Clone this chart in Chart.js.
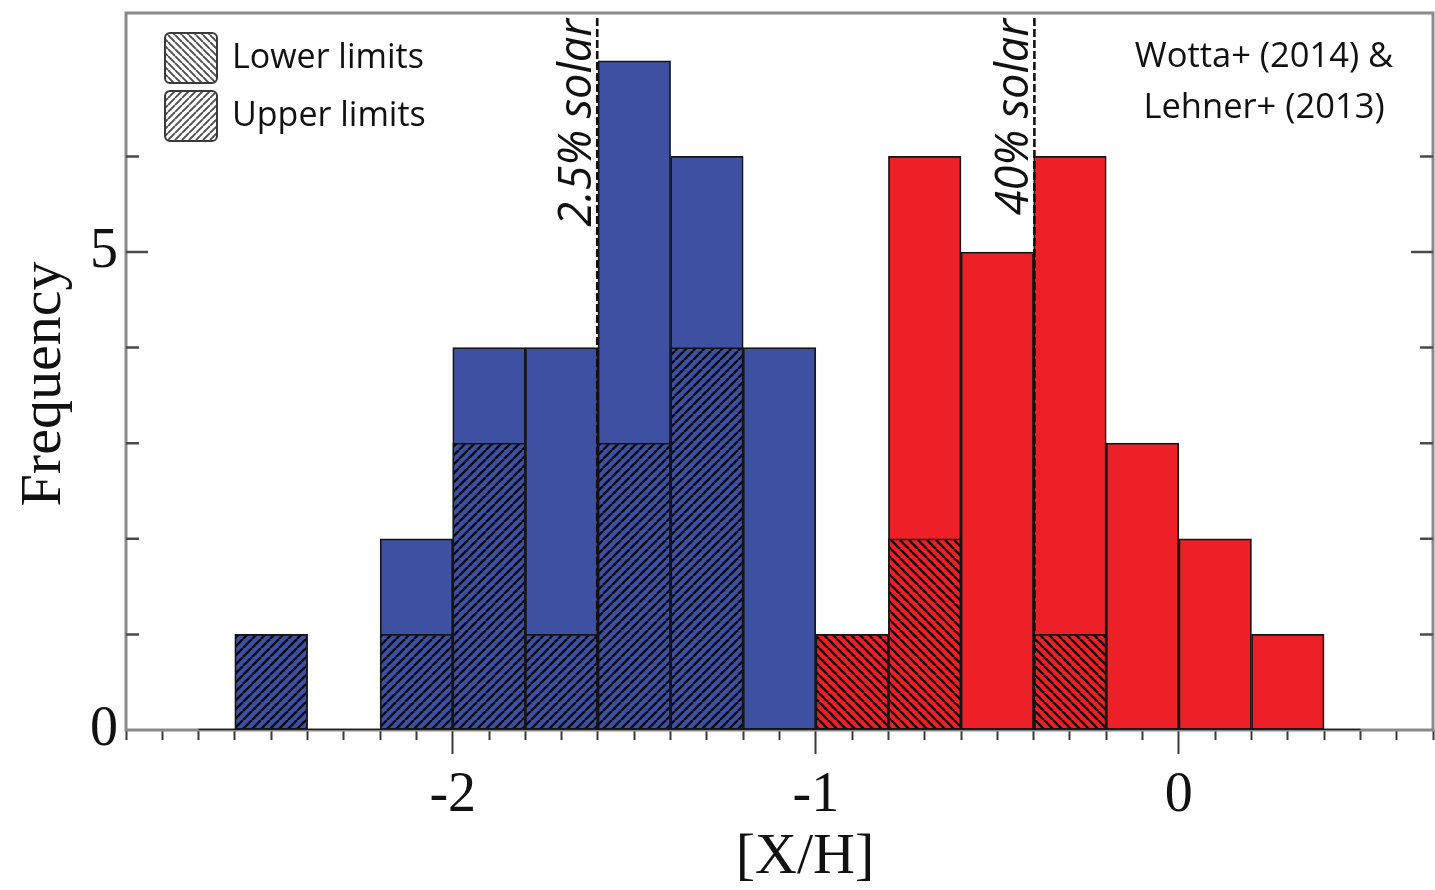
<!DOCTYPE html>
<html>
<head>
<meta charset="utf-8">
<script src="https://cdn.jsdelivr.net/npm/chart.js@4/dist/chart.umd.min.js"></script>
<style>
  html, body { margin: 0; padding: 0; background: #fff; }
  #wrap { width: 1435px; height: 890px; position: relative; }
</style>
</head>
<body>
<div id="wrap"><canvas id="c"></canvas></div>
<script>
// Metallicity distribution: metal-poor (blue) and metal-rich (red) branches, 0.2 dex bins
const blueCenters = [-2.5, -2.3, -2.1, -1.9, -1.7, -1.5, -1.3, -1.1];
const blueCounts = [1, 0, 2, 4, 4, 7, 6, 4];
const blueUpperLimits = [1, 0, 1, 3, 1, 3, 4, 0];
const redCenters = [-0.9, -0.7, -0.5, -0.3, -0.1, 0.1, 0.3];
const redCounts = [1, 6, 5, 6, 3, 2, 1];
const redLowerLimits = [1, 2, 0, 1, 0, 0, 0];
const histRange = [-2.7, 0.5];
const xTickLabels = [-2, -1, 0];
const yTickLabels = [0, 5];
const solarMarks = [
  { x: Math.log10(0.025), label: '2.5% solar' },
  { x: Math.log10(0.4), label: '40% solar' }
];
const legendItems = [
  { label: 'Lower limits', dir: '\\' },
  { label: 'Upper limits', dir: '/' }
];
const sourceNote = ['Wotta+ (2014) &', 'Lehner+ (2013)'];

const BLUE = '#3e50a2';
const RED = '#ec2026';
const EDGE = '#151515';
const SERIF = '"Liberation Serif", "DejaVu Serif", serif';
const SANS = '"Open Sans", "DejaVu Sans", sans-serif';

// Diagonal hatch tile used as a canvas pattern
function hatch(bg, fg, dir, period, lw) {
  const c = document.createElement('canvas');
  c.width = c.height = period;
  const g = c.getContext('2d');
  if (bg) { g.fillStyle = bg; g.fillRect(0, 0, period, period); }
  g.strokeStyle = fg;
  g.lineWidth = lw;
  g.beginPath();
  for (let k = -1; k <= 1; k++) {
    if (dir === '/') { g.moveTo(k * period, period); g.lineTo(k * period + period, 0); }
    else { g.moveTo(k * period, 0); g.lineTo(k * period + period, period); }
  }
  g.stroke();
  return g.createPattern(c, 'repeat');
}

const bluePattern = hatch(BLUE, '#0b0b14', '/', 9, 2.4);
const redPattern = hatch(RED, '#140606', '\\', 9, 2.4);

const toPoints = (xs, ys) => xs.map((x, i) => ({ x, y: ys[i] }));

// all bars share one slot per bin; bin width follows neighbouring centres
const barStyle = {
  type: 'bar',
  stack: 'bins',
  borderColor: EDGE,
  borderWidth: 1.75,
  borderSkipped: false,
  barThickness: 'flex',
  barPercentage: 1,
  categoryPercentage: 1
};

const isMajor = v => Math.abs(v - Math.round(v)) < 1e-6;

// Frame, inner ticks, reference lines, legend and axis titles
const decorations = {
  id: 'decorations',
  beforeDatasetsDraw(chart) {
    const { ctx, chartArea: a } = chart;
    ctx.save();
    ctx.strokeStyle = '#8a8a8a';
    ctx.lineWidth = 3;
    ctx.strokeRect(a.left, a.top, a.right - a.left, a.bottom - a.top);
    ctx.restore();
  },
  afterDatasetsDraw(chart) {
    const { ctx, chartArea: a, scales } = chart;
    const xs = scales.x, ys = scales.y;
    ctx.save();
    // side ticks pointing inward
    ctx.strokeStyle = '#4a4a4a';
    ctx.lineWidth = 2.5;
    ys.ticks.forEach(t => {
      if (!Number.isInteger(t.value) || t.value === 0) return;
      const y = ys.getPixelForValue(t.value);
      const len = t.value % 5 === 0 ? 22 : 13;
      ctx.beginPath();
      ctx.moveTo(a.left, y); ctx.lineTo(a.left + len, y);
      ctx.moveTo(a.right, y); ctx.lineTo(a.right - len, y);
      ctx.stroke();
    });
    // solar reference lines
    solarMarks.forEach(m => {
      const x = xs.getPixelForValue(m.x);
      ctx.strokeStyle = '#111111';
      ctx.lineWidth = 2.6;
      ctx.setLineDash([8, 3]);
      ctx.beginPath();
      ctx.moveTo(x, ys.getPixelForValue(0));
      ctx.lineTo(x, a.top + 4);
      ctx.stroke();
      ctx.setLineDash([]);
      ctx.save();
      ctx.translate(x - 6, a.top + 6);
      ctx.rotate(-Math.PI / 2);
      ctx.font = 'italic 45px ' + SANS;
      ctx.fillStyle = '#111';
      ctx.textAlign = 'right';
      ctx.textBaseline = 'alphabetic';
      ctx.fillText(m.label, 0, 0);
      ctx.restore();
    });
    ctx.restore();
  },
  afterDraw(chart) {
    const { ctx } = chart;
    ctx.save();
    // legend
    legendItems.forEach((it, i) => {
      const bx = 165, by = 33 + i * 58, bw = 52, bh = 50;
      const pat = hatch('#ffffff', '#4a4a4a', it.dir, 7, 1.8);
      ctx.beginPath();
      ctx.roundRect(bx, by, bw, bh, 5);
      ctx.fillStyle = pat;
      ctx.fill();
      ctx.strokeStyle = '#3a3a3a';
      ctx.lineWidth = 2;
      ctx.stroke();
      ctx.font = '34px ' + SANS;
      ctx.fillStyle = '#111';
      ctx.textAlign = 'left';
      ctx.textBaseline = 'middle';
      ctx.fillText(it.label, 232, by + bh / 2);
    });
    // source note
    ctx.font = '34.5px ' + SANS;
    ctx.textAlign = 'center';
    ctx.textBaseline = 'middle';
    sourceNote.forEach((s, i) => ctx.fillText(s, 1264, 57 + i * 51));
    // axis titles
    ctx.font = '58px ' + SERIF;
    ctx.fillText('[X/H]', 805, 858);
    ctx.save();
    ctx.translate(45, 384);
    ctx.rotate(-Math.PI / 2);
    ctx.fillText('Frequency', 0, 0);
    ctx.restore();
    ctx.restore();
  }
};

new Chart(document.getElementById('c'), {
  type: 'bar',
  plugins: [decorations],
  data: {
    datasets: [
      { ...barStyle, data: toPoints(blueCenters, blueUpperLimits), backgroundColor: bluePattern, order: 2 },
      { ...barStyle, data: toPoints(blueCenters, blueCounts), backgroundColor: BLUE, order: 3 },
      { ...barStyle, data: toPoints(redCenters, redLowerLimits), backgroundColor: redPattern, order: 2 },
      { ...barStyle, data: toPoints(redCenters, redCounts), backgroundColor: RED, order: 3 },
      {
        type: 'line',
        data: histRange.map(x => ({ x, y: 0 })),
        borderColor: '#1a1a1a',
        borderWidth: 2.5,
        pointRadius: 0,
        order: 1
      }
    ]
  },
  options: {
    responsive: true,
    maintainAspectRatio: false,
    animation: false,
    events: [],
    layout: { padding: { top: 13, right: 2, left: 0, bottom: 0 } },
    plugins: { legend: { display: false }, tooltip: { enabled: false } },
    scales: {
      x: {
        type: 'linear',
        position: 'bottom',
        stacked: true,
        min: -2.9,
        max: 0.7,
        offset: false,
        border: { display: false },
        grid: {
          offset: false,
          drawOnChartArea: false,
          drawTicks: true,
          tickLength: 24,
          tickWidth: 2,
          tickColor: '#3a3a3a',
          tickBorderDash: ctx => (ctx.tick && isMajor(ctx.tick.value)) ? [] : [10, 100]
        },
        ticks: {
          stepSize: 0.1,
          autoSkip: false,
          maxRotation: 0,
          padding: 9,
          color: '#111',
          font: { family: SERIF, size: 56 },
          callback: v => {
            const r = Math.round(v * 10) / 10;
            return (isMajor(r) && xTickLabels.includes(Math.round(r))) ? String(Math.round(r) || 0) : '';
          }
        },
        afterFit: s => { s.height = 160; s.paddingLeft = 0; s.paddingRight = 0; }
      },
      y: {
        type: 'linear',
        stacked: false,
        min: 0,
        max: 7.5,
        border: { display: false },
        grid: { drawOnChartArea: false, drawTicks: false },
        ticks: {
          stepSize: 1,
          padding: 8,
          color: '#111',
          font: { family: SERIF, size: 56 },
          callback: v => yTickLabels.includes(v) ? String(v) : ''
        },
        afterFit: s => { s.width = 126; s.paddingTop = 0; s.paddingBottom = 0; }
      }
    }
  }
});
</script>
</body>
</html>
